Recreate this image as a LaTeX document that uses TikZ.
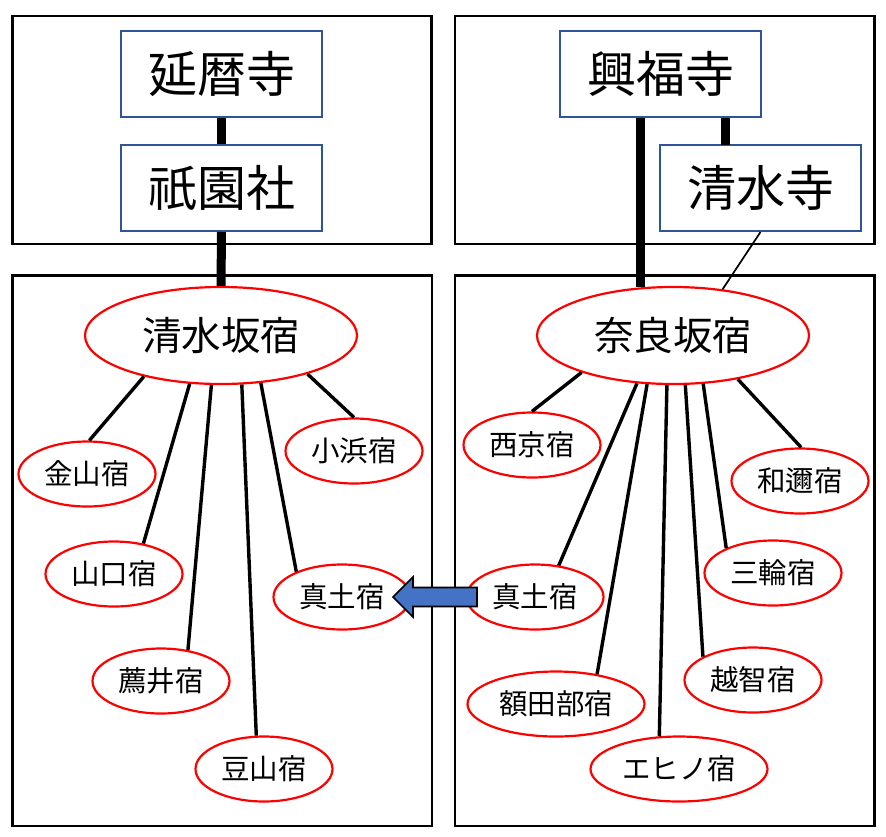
\documentclass[tikz,border=0pt]{standalone}
\usepackage{fontspec}
\setmainfont{Noto Sans CJK JP}
\usetikzlibrary{shapes.geometric}
\definecolor{boxblue}{HTML}{2F5597}
\definecolor{arrowblue}{HTML}{4472C4}
\tikzset{
  frame/.style={draw=black, line width=2.6pt},
  temple/.style={draw=boxblue, line width=2pt, fill=white, minimum width=201pt, minimum height=86pt, inner sep=0pt, font=\fontsize{49}{49}\selectfont},
  bigstop/.style={ellipse, draw=red, line width=2.2pt, fill=white, minimum width=272pt, minimum height=97pt, inner sep=0pt, font=\fontsize{39.5}{39.5}\selectfont},
  stop/.style={ellipse, draw=red, line width=2.2pt, fill=white, minimum width=137pt, minimum height=65pt, inner sep=0pt, font=\fontsize{28.5}{28.5}\selectfont},
  widestop/.style={stop, minimum width=177pt},
  link/.style={draw=black, line width=3.4pt},
  biglink/.style={draw=black, line width=9pt},
  thinlink/.style={draw=black, line width=1.7pt},
}
\begin{document}
\begin{tikzpicture}[x=1pt,y=-1pt]
\useasboundingbox (0,0) rectangle (886,836);
% frames
\draw[frame] (12.5,16) rectangle (431.5,244);
\draw[frame] (455,16) rectangle (874.5,244);
\draw[frame] (12.5,275.5) rectangle (432,826);
\draw[frame] (455,275.5) rectangle (874.5,826);
% temples
\node[temple] (enryaku) at (221.5,74) {延暦寺};
\node[temple] (gion) at (221.5,188) {祇園社};
\node[temple] (kofuku) at (660.5,74) {興福寺};
\node[temple] (kiyodera) at (760.5,188) {清水寺};
% main stops
\node[bigstop] (kzaka) at (221,335.5) {清水坂宿};
\node[bigstop] (nzaka) at (673,335.5) {奈良坂宿};
% left stops
\node[stop] (kanayama) at (87,474) {金山宿};
\node[stop] (yamaguchi) at (114,574) {山口宿};
\node[stop] (komoi) at (161,681) {薦井宿};
\node[stop] (mameyama) at (264,769) {豆山宿};
\node[stop] (matsuchiL) at (342,597) {真土宿};
\node[stop] (obama) at (354,451) {小浜宿};
% right stops
\node[stop] (nishikyo) at (532,445) {西京宿};
\node[stop] (wani) at (800,481) {和邇宿};
\node[stop] (matsuchiR) at (535,597) {真土宿};
\node[stop] (miwa) at (773,573) {三輪宿};
\node[widestop] (nukatabe) at (556,704) {額田部宿};
\node[stop] (ochi) at (753,680) {越智宿};
\node[widestop] (ehino) at (679,769) {エヒノ宿};
% thick links
\draw[biglink] (enryaku.south) -- (gion.north);
\draw[biglink] (gion.south) -- (kzaka.north);
\draw[biglink] (kofuku.south -| nzaka.124.2) -- (nzaka.124.2);
\coordinate (kk) at (725,145);
\draw[biglink] (kk |- kofuku.south) -- (kk);
\draw[thinlink] (kiyodera.south) -- (nzaka.43);
% left links
\draw[link] (kzaka.-152) -- (kanayama.86);
\draw[link] (kzaka.-123) -- (yamaguchi.46);
\draw[link] (kzaka.-101) -- (komoi.49.5);
\draw[link] (kzaka.-67.6) -- (mameyama.103.6);
\draw[link] (kzaka.-50) -- (matsuchiL.151.5);
\draw[link] (kzaka.-24.7) -- (obama.90);
% right links
\draw[link] (nzaka.-158.9) -- (nishikyo.90);
\draw[link] (nzaka.-127.6) -- (matsuchiR.53.7);
\draw[link] (nzaka.-118.9) -- (nukatabe.36.6);
\draw[link] (nzaka.-97.8) -- (ehino.121);
\draw[link] (nzaka.-76.8) -- (ochi.155.7);
\draw[link] (nzaka.-58.2) -- (miwa.152.5);
\draw[link] (nzaka.-34.7) -- (wani.88);
% block arrow from right 真土宿 to left 真土宿
\draw[black, line width=1.6pt, fill=arrowblue, line join=miter]
  (393,597) -- (413,577) -- (413,587.5) -- (477,587.5) -- (477,606.5)
  -- (413,606.5) -- (413,617) -- cycle;
\end{tikzpicture}
\end{document}
